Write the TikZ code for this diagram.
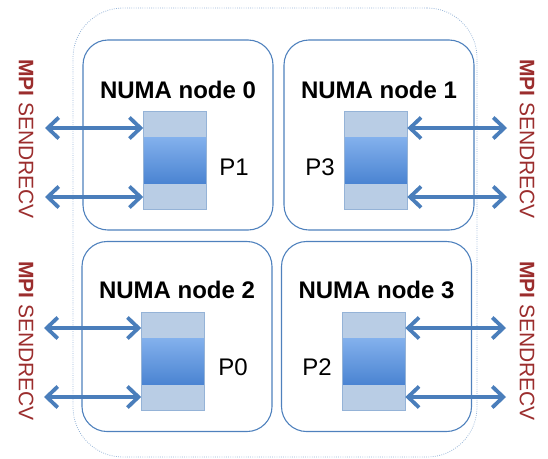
\documentclass[tikz,border=0pt]{standalone}
\usepackage{fontspec}
\setmainfont{Liberation Sans}
\usetikzlibrary{arrows.meta}
\usetikzlibrary{positioning}
\usetikzlibrary{calc}

\definecolor{numablue}{HTML}{4F81BD}
\definecolor{linkblue}{HTML}{4A7EBB}
\definecolor{dotblue}{HTML}{95B3D7}
\definecolor{memlight}{HTML}{B9CDE5}
\definecolor{memtop}{HTML}{82B0EC}
\definecolor{membot}{HTML}{4B84D2}
\definecolor{mpired}{HTML}{9B2D2D}

\begin{document}
\begin{tikzpicture}[x=1pt, y=-1pt,
    numabox/.style={draw=numablue, line width=1.1pt, rounded corners=25pt, minimum width=190pt, minimum height=190pt, inner sep=0pt},
    title/.style={font=\bfseries\fontsize{24}{24}\selectfont, inner sep=0pt},
    proc/.style={font=\fontsize{24}{24}\selectfont, inner sep=0pt},
    membox/.style={draw=dotblue, line width=0.6pt, minimum width=63pt, minimum height=98pt, inner sep=0pt,
        path picture={
            \fill[memlight] (path picture bounding box.south west) rectangle (path picture bounding box.north east);
            \shade[top color=memtop, bottom color=membot]
                ($(path picture bounding box.north west)!0.27!(path picture bounding box.south west)$) rectangle
                ($(path picture bounding box.north east)!0.73!(path picture bounding box.south east)$);
        }},
    link/.style={draw=linkblue, line width=3.8pt, {Straight Barb[length=11pt,width=21pt]}-{Straight Barb[length=11pt,width=21pt]}},
    mpi/.style={text=mpired, font=\fontsize{21}{21}\selectfont, rotate=-90, inner sep=0pt}]
    \useasboundingbox (0,0) rectangle (548,458);

    % outer dotted box
    \node[draw=dotblue, line width=0.8pt, dash pattern=on 0.8pt off 1.4pt, rounded corners=50pt,
          minimum width=404pt, minimum height=449pt] (chip) at (275,232.5) {};

    % NUMA nodes
    \node[numabox] (n0) at (178,135) {};
    \node[numabox] (n1) at (379,135) {};
    \node[numabox] (n2) at (177,336.5) {};
    \node[numabox] (n3) at (376.5,336.5) {};

    \node[title] (t0) at (178,90) {NUMA node 0};
    \node[title] (t1) at (379,90) {NUMA node 1};
    \node[title] (t2) at (177,290) {NUMA node 2};
    \node[title] (t3) at (376.5,290) {NUMA node 3};

    % memory of each process
    \node[membox] (m0) at (175,160.5) {};
    \node[membox] (m1) at (375.5,160.5) {};
    \node[membox] (m2) at (173,361.5) {};
    \node[membox] (m3) at (373.5,361.5) {};

    \node[proc] (p1) at (234,167) {P1};
    \node[proc] (p3) at (320,167) {P3};
    \node[proc] (p0) at (233,367) {P0};
    \node[proc] (p2) at (317,367) {P2};

    % outside ends of the exchanges
    \coordinate (a0) at (45,128);
    \coordinate (b0) at (45,197);
    \coordinate (a1) at (507,128);
    \coordinate (b1) at (507,197);
    \coordinate (a2) at (44,328);
    \coordinate (b2) at (44,397);
    \coordinate (a3) at (506,328);
    \coordinate (b3) at (506,397);

    \draw[link] (a0) -- (a0 -| m0.west);
    \draw[link] (b0) -- (b0 -| m0.west);
    \draw[link] (m1.east |- a1) -- (a1);
    \draw[link] (m1.east |- b1) -- (b1);
    \draw[link] (a2) -- (a2 -| m2.west);
    \draw[link] (b2) -- (b2 -| m2.west);
    \draw[link] (m3.east |- a3) -- (a3);
    \draw[link] (m3.east |- b3) -- (b3);

    \node[mpi] (s0) at (26,139) {\textbf{MPI} SENDRECV};
    \node[mpi] (s1) at (527,139) {\textbf{MPI} SENDRECV};
    \node[mpi] (s2) at (26,341) {\textbf{MPI} SENDRECV};
    \node[mpi] (s3) at (527,341) {\textbf{MPI} SENDRECV};
\end{tikzpicture}
\end{document}
